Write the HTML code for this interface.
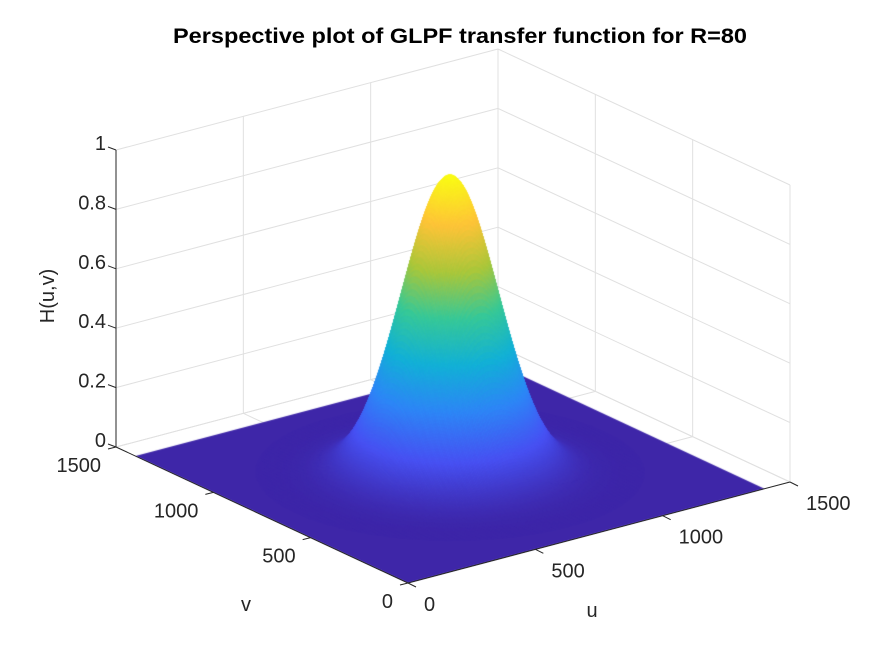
<!DOCTYPE html>
<html><head><meta charset="utf-8">
<style>
html,body{margin:0;padding:0;background:#fff;}
#wrap{position:relative;width:875px;height:656px;overflow:hidden;}
#wrap svg,#wrap canvas{position:absolute;left:0;top:0;display:block;}
svg{font-family:"Liberation Sans",sans-serif;}
</style></head>
<body>
<div id="wrap">
<svg id="under" width="875" height="656" viewBox="0 0 875 656" xmlns="http://www.w3.org/2000/svg">
<rect width="875" height="656" fill="#fff"/>
<g id="grid"></g>
</svg>
<canvas id="surf" width="875" height="656"></canvas>
<svg id="over" width="875" height="656" viewBox="0 0 875 656" xmlns="http://www.w3.org/2000/svg">
<text x="460" y="43" text-anchor="middle" font-size="21" font-weight="bold" fill="#000" textLength="574" lengthAdjust="spacingAndGlyphs">Perspective plot of GLPF transfer function for R=80</text>
<g id="axes"></g>
<text x="592" y="617" text-anchor="middle" font-size="20" fill="#262626">u</text>
<text x="246" y="611" text-anchor="middle" font-size="20" fill="#262626">v</text>
<text transform="translate(54,296) rotate(-90)" text-anchor="middle" font-size="20" fill="#262626">H(u,v)</text>
</svg>
</div>
<script>
const uTicks = [0, 500, 1000, 1500];
const vTicks = [0, 500, 1000, 1500];
const zTicks = [0, 0.2, 0.4, 0.6, 0.8, 1];
const zTickLabels = ["0", "0.2", "0.4", "0.6", "0.8", "1"];
const axisMax = [1500, 1500, 1];
const surfaceExtent = [0, 1400];
const peakCenter = [700, 700];
const peakHeight = [1.0];
const peakSigma = [150];

const NS = "http://www.w3.org/2000/svg";
function P(u, v, z) {
  return [408 + u * (382 / axisMax[0]) - v * (292 / axisMax[1]),
          583 - u * (101 / axisMax[0]) - v * (136 / axisMax[1]) - z * (297 / axisMax[2])];
}
function mk(tag, attrs, parent) {
  const e = document.createElementNS(NS, tag);
  for (const k in attrs) e.setAttribute(k, attrs[k]);
  parent.appendChild(e);
  return e;
}
const parula = [[0.2422,0.1504,0.6603],[0.2810,0.3228,0.9579],[0.1786,0.5289,0.9682],[0.0689,0.6948,0.8394],[0.2161,0.7843,0.5923],[0.6720,0.7793,0.2227],[0.9970,0.7659,0.2199],[0.9769,0.9839,0.0805]];
function cmap(t) {
  t = Math.max(0, Math.min(1, t)) * 7;
  const i = Math.min(6, Math.floor(t)), f = t - i;
  const a = parula[i], b = parula[i + 1];
  return "rgb(" + [0,1,2].map(k => Math.round(255 * (a[k] + (b[k] - a[k]) * f))).join(",") + ")";
}
const grid = document.getElementById("grid");
const axes = document.getElementById("axes");
function line(p, q, color, parent, name) {
  const l = mk("line", {x1: p[0], y1: p[1], x2: q[0], y2: q[1], stroke: color, "stroke-width": 1}, parent);
  
  
}
const gc = "#e0e0e0";
const U = axisMax[0], V = axisMax[1];
zTicks.forEach(z => {
  line(P(0, V, z), P(U, V, z), gc, grid, "z-gridline-left-wall");
  line(P(U, V, z), P(U, 0, z), gc, grid, "z-gridline-right-wall");
});
uTicks.forEach(u => {
  line(P(u, V, 0), P(u, V, 1), gc, grid, "u-gridline-wall");
  line(P(u, 0, 0), P(u, V, 0), gc, grid, "u-gridline-floor");
});
vTicks.forEach(v => {
  line(P(U, v, 0), P(U, v, 1), gc, grid, "v-gridline-wall");
  line(P(0, v, 0), P(U, v, 0), gc, grid, "v-gridline-floor");
});
function H(u, v) {
  const d2 = (u - peakCenter[0]) ** 2 + (v - peakCenter[1]) ** 2;
  return peakHeight[0] * Math.exp(-d2 / (2 * peakSigma[0] ** 2));
}
const ctx = document.getElementById("surf").getContext("2d");
(function () {
  const a = surfaceExtent[0], b = surfaceExtent[1];
  const pts = [P(a, a, 0), P(b, a, 0), P(b, b, 0), P(a, b, 0)];
  ctx.fillStyle = cmap(0);
  ctx.beginPath();
  pts.forEach((p, k) => k ? ctx.lineTo(p[0], p[1]) : ctx.moveTo(p[0], p[1]));
  ctx.closePath();
  ctx.fill();
})();
const r0 = peakCenter[0] - 4.5 * peakSigma[0], r1 = peakCenter[0] + 4.5 * peakSigma[0];
const N = 260;
const step = (r1 - r0) / N;
const quads = [];
for (let i = 0; i < N; i++) for (let j = 0; j < N; j++) quads.push([i, j]);
quads.sort((a, b) => (b[0] + b[1]) - (a[0] + a[1]));
ctx.lineWidth = 0.7;
quads.forEach(([i, j]) => {
  const u0 = r0 + i * step, u1 = u0 + step;
  const v0 = r0 + j * step, v1 = v0 + step;
  const zs = [H(u0, v0), H(u1, v0), H(u1, v1), H(u0, v1)];
  const zm = (zs[0] + zs[1] + zs[2] + zs[3]) / 4;
  if (zm < 0.0003) return;
  const pts = [P(u0, v0, zs[0]), P(u1, v0, zs[1]), P(u1, v1, zs[2]), P(u0, v1, zs[3])];
  const c = cmap(zm / peakHeight[0]);
  ctx.fillStyle = c; ctx.strokeStyle = c;
  ctx.beginPath();
  pts.forEach((p, k) => k ? ctx.lineTo(p[0], p[1]) : ctx.moveTo(p[0], p[1]));
  ctx.closePath();
  ctx.fill(); ctx.stroke();
});
const ac = "#262626";
line(P(0, V, 0), P(0, V, 1), ac, axes, "z-axis-line");
line(P(0, 0, 0), P(U, 0, 0), ac, axes, "u-axis-line");
line(P(0, 0, 0), P(0, V, 0), ac, axes, "v-axis-line");
function txt(x, y, s, anchor, name) {
  const t = mk("text", {x: x, y: y, "font-size": 20, fill: ac, "text-anchor": anchor, "dominant-baseline": "central"}, axes);
  t.textContent = s;
  
  
}
zTicks.forEach((z, k) => {
  const p = P(0, V, z);
  line(p, [p[0] - 8, p[1] - 3], ac, axes, "z-tick");
  txt(p[0] - 10, p[1] - 6, zTickLabels[k], "end", "z-tick-label");
});
uTicks.forEach(u => {
  const p = P(u, 0, 0);
  line(p, [p[0] + 8, p[1] + 4], ac, axes, "u-tick");
  txt(p[0] + 16, p[1] + 22, String(u), "start", "u-tick-label");
});
vTicks.forEach(v => {
  const p = P(0, v, 0);
  line(p, [p[0] - 8, p[1] + 2], ac, axes, "v-tick");
  txt(p[0] - 15, p[1] + 19, String(v), "end", "v-tick-label");
});
</script>
</body></html>
